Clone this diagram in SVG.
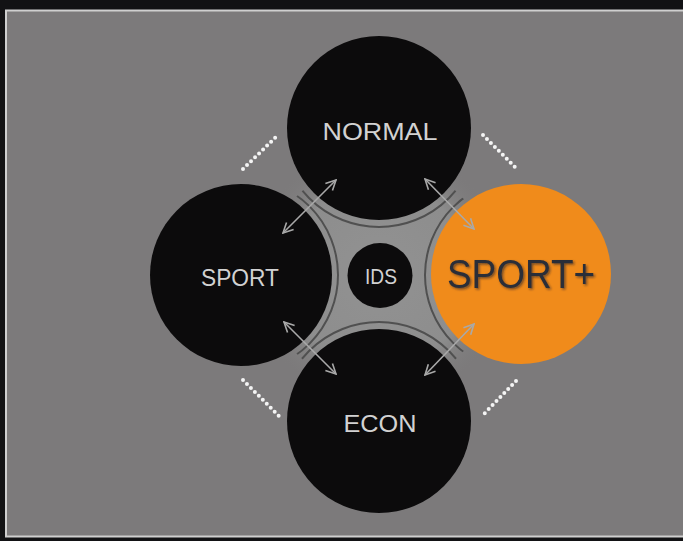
<svg xmlns="http://www.w3.org/2000/svg" width="683" height="541" viewBox="0 0 683 541">
<style>
.lbl{font-family:"Liberation Sans",Arial,sans-serif;fill:#d2d2d2;text-anchor:middle}
.blk{fill:#0c0b0c}
.ring{fill:none;stroke:#505050;stroke-width:2}
.arr{stroke:#a9a9a9;stroke-width:1.6;fill:none;marker-start:url(#ah);marker-end:url(#ah)}
.dots{stroke:#f4f4f4;stroke-width:4;stroke-linecap:round;stroke-dasharray:0 5.6;fill:none}
</style>
<defs>
<marker id="ah" viewBox="0 0 12 12" refX="11" refY="6" markerWidth="12" markerHeight="12" markerUnits="userSpaceOnUse" orient="auto-start-reverse">
<path d="M1,1 L11,6 L1,11" fill="none" stroke="#a9a9a9" stroke-width="1.6"/>
</marker>
<radialGradient id="cg" cx="379" cy="275" r="130" gradientUnits="userSpaceOnUse">
<stop offset="0" stop-color="#929292"/>
<stop offset="0.7" stop-color="#8d8d8d"/>
<stop offset="1" stop-color="#7c7b7b" stop-opacity="0"/>
</radialGradient>
<clipPath id="cc"><circle cx="379" cy="275" r="114"/></clipPath>
<filter id="sh" x="-10%" y="-10%" width="120%" height="130%">
<feDropShadow dx="1.5" dy="1.5" stdDeviation="0.8" flood-color="#1a1a2a" flood-opacity="0.6"/>
</filter>
</defs>
<rect x="0" y="0" width="683" height="541" fill="#121214"/>
<rect x="6" y="10.5" width="690" height="526" fill="#7c7a7b" stroke="#cfcfcf" stroke-width="2"/>
<circle cx="379" cy="275" r="130" fill="url(#cg)"/>
<g clip-path="url(#cc)">
<circle class="ring" cx="379" cy="128" r="99"/>
<circle class="ring" cx="379" cy="421" r="99"/>
<circle class="ring" cx="241" cy="275" r="97"/>
<circle class="ring" cx="521" cy="275" r="96"/>
</g>
<g id="normal"><circle class="blk" cx="379" cy="128" r="92"/><text class="lbl" x="380" y="140" font-size="23" textLength="115" lengthAdjust="spacingAndGlyphs">NORMAL</text></g>
<g id="econ"><circle class="blk" cx="379" cy="421" r="92"/><text class="lbl" x="380" y="432" font-size="23" textLength="73" lengthAdjust="spacingAndGlyphs">ECON</text></g>
<g id="sport"><circle class="blk" cx="241" cy="275" r="91"/><text class="lbl" x="240" y="286" font-size="23" textLength="78" lengthAdjust="spacingAndGlyphs">SPORT</text></g>
<g id="sportplus"><circle cx="521" cy="274" r="90" fill="#f08b1b"/><text x="521" y="288" font-family="'Liberation Sans',Arial,sans-serif" font-size="40" fill="#2a2d38" text-anchor="middle" textLength="148" lengthAdjust="spacingAndGlyphs" filter="url(#sh)">SPORT+</text></g>
<g id="ids"><circle class="blk" cx="380" cy="275.5" r="32.5"/><text class="lbl" x="381" y="284" font-size="22" textLength="32" lengthAdjust="spacingAndGlyphs">IDS</text></g>
<g id="connectors">
<line class="arr" x1="283" y1="233" x2="336" y2="180"/>
<line class="arr" x1="425" y1="179" x2="474" y2="229"/>
<line class="arr" x1="284" y1="322" x2="336" y2="374"/>
<line class="arr" x1="474" y1="324" x2="425" y2="375"/>
<path class="dots" d="M243,169 L279,134"/>
<path class="dots" d="M483,135 L518,170"/>
<path class="dots" d="M243,380 L279,416"/>
<path class="dots" d="M516,381 L482,416"/>
</g>
</svg>
